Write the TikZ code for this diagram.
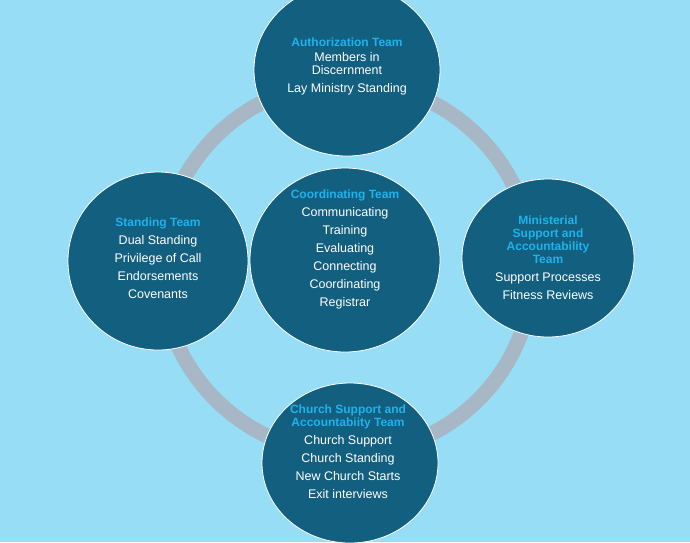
\documentclass[tikz,border=0pt]{standalone}
\usepackage{fontspec}
\setmainfont{Liberation Sans}
\usetikzlibrary{shapes.geometric}
\definecolor{bg}{HTML}{97DDF5}
\definecolor{ring}{HTML}{A8B7C5}
\definecolor{disc}{HTML}{135F7F}
\definecolor{ttl}{HTML}{1DB3EE}
\newcommand{\tl}[1]{{\color{ttl}\bfseries\fontsize{12}{14}\selectfont #1}}
\begin{document}
\begin{tikzpicture}[x=1pt,y=-1pt,
  disc/.style={fill=disc,draw=white,line width=0.8pt},
  txt/.style={text=white,align=center,font=\fontsize{12.5}{18}\selectfont}]
\fill[bg] (0,0) rectangle (690,542);
\useasboundingbox (0,0) rectangle (690,542);
\draw[ring,line width=15pt] (347,268) circle (186);
\draw[disc] (347,70) ellipse (93 and 86);
\draw[disc] (158,261) ellipse (90 and 89);
\draw[disc] (345,260) ellipse (95 and 92);
\draw[disc] (548,258) ellipse (86 and 79);
\draw[disc] (350,463) ellipse (88 and 80);
\node[txt] (a) at (347,66) {\tl{Authorization Team}\\[-3pt]Members in\\[-5pt]Discernment\\Lay Ministry Standing};
\node[txt] (s) at (158,258) {\tl{Standing Team}\\Dual Standing\\Privilege of Call\\Endorsements\\Covenants};
\node[txt] (c) at (345,249) {\tl{Coordinating Team}\\Communicating\\Training\\Evaluating\\Connecting\\Coordinating\\Registrar};
\node[txt] (m) at (548,258) {\tl{Ministerial}\\[-5pt]\tl{Support and}\\[-5pt]\tl{Accountability}\\[-5pt]\tl{Team}\\Support Processes\\Fitness Reviews};
\node[txt] (b) at (348,452) {\tl{Church Support and}\\[-5pt]\tl{Accountabiity Team}\\Church Support\\Church Standing\\New Church Starts\\Exit interviews};
\end{tikzpicture}
\end{document}
